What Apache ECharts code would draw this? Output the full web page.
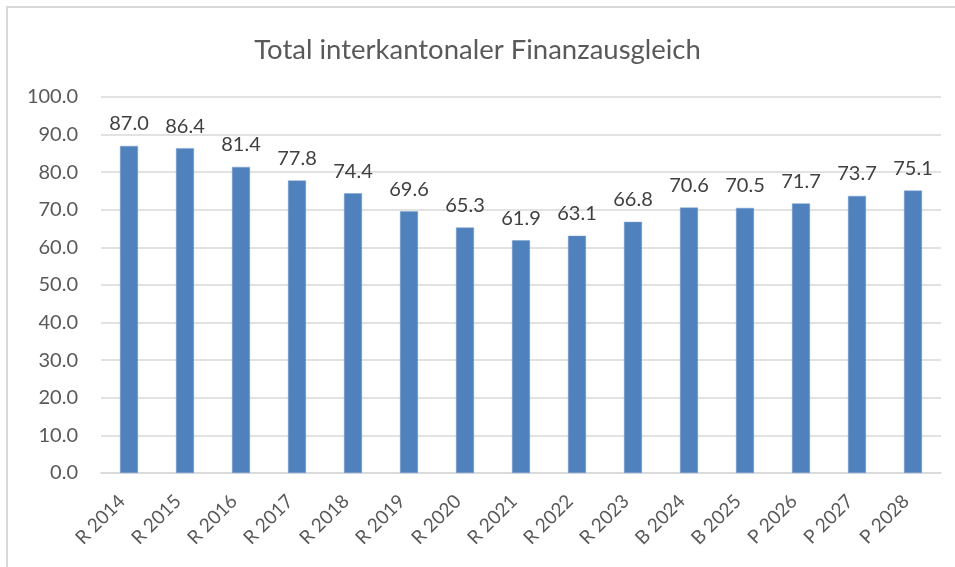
<!DOCTYPE html>
<html>
<head>
<meta charset="utf-8">
<script src="https://cdn.jsdelivr.net/npm/echarts@6/dist/echarts.min.js"></script>
<style>
    html, body { margin: 0; padding: 0; background: #fff; }
    #chart { width: 955px; height: 567px; }
</style>
</head>
<body>
<div id="chart"></div>
<script>
// Kategorien (R = Rechnung, B = Budget, P = Plan)
var categories = ['R 2014', 'R 2015', 'R 2016', 'R 2017', 'R 2018', 'R 2019', 'R 2020', 'R 2021',
    'R 2022', 'R 2023', 'B 2024', 'B 2025', 'P 2026', 'P 2027', 'P 2028'];
// Werte
var values = [87.0, 86.4, 81.4, 77.8, 74.4, 69.6, 65.3, 61.9, 63.1, 66.8, 70.6, 70.5, 71.7, 73.7, 75.1];
// Achse
var yMin = 0, yMax = 100, yStep = 10;

var chart = echarts.init(document.getElementById('chart'));
var font = 'Lato, "Liberation Sans", sans-serif';

chart.setOption({
    animation : false,
    textStyle : { fontFamily : font },
    title : {
        text : 'Total interkantonaler Finanzausgleich',
        left : 'center',
        top : 31,
        textStyle : {
            fontFamily : font,
            fontSize : 27.5,
            fontWeight : 'normal',
            color : '#595959'
        }
    },
    // Rahmen um das Diagramm
    graphic : [ {
        type : 'rect',
        shape : { x : 7, y : 7, width : 1000, height : 1000 },
        style : { fill : 'none', stroke : '#d9d9d9', lineWidth : 2 },
        silent : true
    } ],
    grid : {
        left : 101,
        right : 14,
        top : 97,
        bottom : 94,
        containLabel : false
    },
    xAxis : {
        type : 'category',
        data : categories,
        axisLine : { lineStyle : { color : '#d9d9d9', width : 1.5 } },
        axisTick : { show : false },
        axisLabel : {
            rotate : 45,
            interval : 0,
            color : '#595959',
            fontSize : 19,
            margin : 18,
            padding : [0, 10, 0, 0],
            fontFamily : font
        }
    },
    yAxis : {
        type : 'value',
        min : yMin,
        max : yMax,
        interval : yStep,
        axisLine : { show : false },
        axisTick : { show : false },
        splitLine : { lineStyle : { color : '#d9d9d9', width : 1.5 } },
        axisLabel : {
            color : '#595959',
            fontSize : 20,
            margin : 23,
            fontFamily : font,
            formatter : function(v) { return v.toFixed(1); }
        }
    },
    series : [ {
        name : 'Total',
        type : 'bar',
        data : values,
        barWidth : 18,
        itemStyle : {
            color : '#4f81bd',
            borderColor : '#7ea1cf',
            borderWidth : 0.5
        },
        label : {
            show : true,
            position : 'top',
            distance : 12,
            color : '#404040',
            fontSize : 20,
            fontFamily : font,
            formatter : function(p) { return p.value.toFixed(1); }
        }
    } ]
});
</script>
</body>
</html>
